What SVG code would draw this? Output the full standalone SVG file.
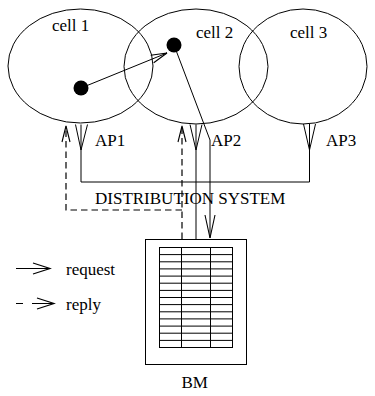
<svg xmlns="http://www.w3.org/2000/svg" width="375" height="396" viewBox="0 0 375 396">
<style>
  .ln{fill:none;stroke:#000;stroke-width:1}
  .ds{fill:none;stroke:#000;stroke-width:1.2;stroke-dasharray:6.5,4}
  .cell{fill:none;stroke:#000;stroke-width:1}
  .dot{fill:#000}
  text{font-family:"Liberation Serif","Times New Roman",serif;font-size:17px;fill:#000}
  .tb{fill:none;stroke:#000;stroke-width:1}
</style>
<defs>
  <marker id="arr" markerUnits="userSpaceOnUse" markerWidth="20" markerHeight="12" refX="16" refY="5" orient="auto" overflow="visible">
    <path d="M0,1 L16,5 L0,9" fill="none" stroke="#000" stroke-width="1.1"/>
  </marker>
  <marker id="arrW" markerUnits="userSpaceOnUse" markerWidth="20" markerHeight="14" refX="17" refY="6" orient="auto" overflow="visible">
    <path d="M0,0.5 L17,6 L0,11.5" fill="none" stroke="#000" stroke-width="1.2"/>
  </marker>
  <marker id="arrL" markerUnits="userSpaceOnUse" markerWidth="26" markerHeight="12" refX="23" refY="5" orient="auto" overflow="visible">
    <path d="M0,0 L23,5 L0,10" fill="none" stroke="#000" stroke-width="1.1"/>
  </marker>
</defs>
<g id="cell1"><ellipse class="cell" cx="80.5" cy="66" rx="72.5" ry="57"/><text x="52" y="31">cell 1</text><circle class="dot" cx="81" cy="88" r="7.5"/></g>
<g id="cell2"><ellipse class="cell" cx="196" cy="66.5" rx="72" ry="57.5"/><text x="196" y="38">cell 2</text><circle class="dot" cx="174" cy="45" r="7.5"/></g>
<g id="cell3"><ellipse class="cell" cx="303" cy="66.5" rx="64" ry="57.5"/><text x="290" y="38">cell 3</text></g>
<g id="ap1"><path class="ln" d="M75.5,124.5 L81,150 L87.5,124.5 M81,124.5 V150"/><text x="95" y="146">AP1</text></g>
<g id="ap2"><path class="ln" d="M190,124.5 L196,150 L202,124.5 M196,124.5 V150"/><text x="211" y="146">AP2</text></g>
<g id="ap3"><path class="ln" d="M303.5,124 L309.5,150 L315.5,124 M309.5,124 V150"/><text x="326" y="146">AP3</text></g>
<g id="ds"><text x="95" y="204">DISTRIBUTION SYSTEM</text></g>
<g id="bm">
  <rect class="ln" x="145.5" y="239.5" width="101" height="125"/>
  <rect class="tb" x="159.5" y="247.5" width="73" height="100"/>
  <path class="tb" d="M181.5,247.5 V347.5 M210.5,247.5 V347.5
  M159.5,254.6 H232.5 M159.5,261.8 H232.5 M159.5,268.9 H232.5 M159.5,276.1 H232.5 M159.5,283.2 H232.5 M159.5,290.4 H232.5 M159.5,297.5 H232.5 M159.5,304.6 H232.5 M159.5,311.8 H232.5 M159.5,318.9 H232.5 M159.5,326.1 H232.5 M159.5,333.2 H232.5 M159.5,340.4 H232.5"/>
  <text x="181.5" y="388">BM</text>
</g>
<g id="legend">
  <path class="ln" d="M16,268.5 H50" marker-end="url(#arrW)"/>
  <text x="66" y="275">request</text>
  <path class="ln" d="M16,303.5 H23"/>
  <path class="ln" d="M32,303.5 H54" marker-end="url(#arrW)"/>
  <text x="66" y="310">reply</text>
</g>
<g id="connectors">
  <path class="ln" d="M81,150 V182 H309.5 V150"/>
  <path class="ln" d="M196,150 V239.5"/>
  <path class="ln" d="M81,88 L167,53" marker-end="url(#arr)"/>
  <path class="ln" d="M174,45 L210,140 V238" marker-end="url(#arrL)"/>
  <path class="ds" d="M182,239 V126" marker-end="url(#arr)"/>
  <path class="ds" d="M182,210 H66 V126" marker-end="url(#arr)"/>
</g>
</svg>
